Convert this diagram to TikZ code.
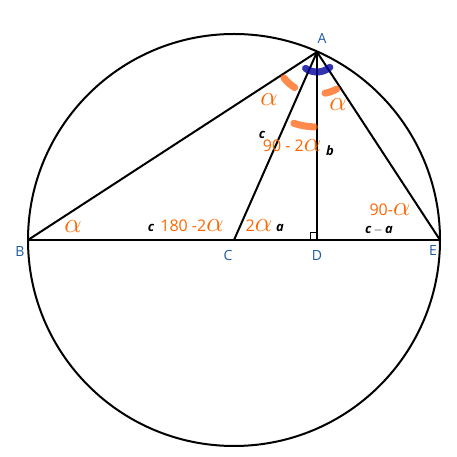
\documentclass[tikz,border=0pt]{standalone}
\usepackage{fontspec}
\usepackage{graphicx}
\setmainfont{Open Sans}
\newcommand{\bigal}{\scalebox{1.6}{$\alpha$}}
\begin{document}
\begin{tikzpicture}[x=1pt,y=1pt,
  ln/.style={line width=2pt,black},
  lab/.style={font=\fontsize{14}{14}\selectfont},
  org/.style={text=orange!80!red,font=\fontsize{16}{16}\selectfont,inner sep=0},
  blk/.style={font=\fontsize{13}{13}\selectfont\itshape\bfseries,inner sep=0},
  oarc/.style={line width=7pt,orange!70!red,opacity=0.7,line cap=round},
  barc/.style={line width=7pt,blue!60!black,opacity=0.8,line cap=round}]
\definecolor{lb}{RGB}{30,90,160}
\useasboundingbox (0,0) rectangle (456,457);
\coordinate (A) at (317,405);
\coordinate (B) at (28,217);
\coordinate (C) at (234,217);
\coordinate (D) at (317,217);
\coordinate (E) at (440,217);
\draw[ln] (C) circle (206);
\draw[ln] (B) -- (E);
\draw[ln] (A) -- (B);
\draw[ln] (A) -- (C);
\draw[ln] (A) -- (D);
\draw[ln] (A) -- (E);
\draw[line width=1pt] ([xshift=-7pt]D) rectangle ([yshift=7pt]D);
\draw[barc] ([shift={(235:20)}]A) arc (235:310:20);
\draw[oarc] ([shift={(218:42)}]A) arc (218:238:42);
\draw[oarc] ([shift={(281:42)}]A) arc (281:298:42);
\draw[oarc] ([shift={(252:75)}]A) arc (252:268:75);
\node[lab,text=lb] (lA) at (322,419) {A};
\node[lab,text=lb] (lB) at (20,205) {B};
\node[lab,text=lb] (lC) at (228,201) {C};
\node[lab,text=lb] (lD) at (317,201) {D};
\node[lab,text=lb] (lE) at (433,206) {E};
\node[org] (a1) at (73,230) {\bigal};
\node[org] (a2) at (269,357) {\bigal};
\node[org] (a3) at (338,352) {\bigal};
\node[org] (t1) at (292,311) {90 - 2\bigal};
\node[blk] (c1) at (262,322) {c};
\node[blk] (b1) at (330,306) {b};
\node[blk] (c2) at (151,229) {c};
\node[org] (t2) at (192,231) {180 -2\bigal};
\node[org] (t3) at (259,231) {2\bigal};
\node[blk] (a4) at (280,229) {a};
\node[org] (t4) at (390,247) {90-\bigal};
\node[blk] (ca) at (379,227) {c\,$-$\,a};
\end{tikzpicture}
\end{document}
